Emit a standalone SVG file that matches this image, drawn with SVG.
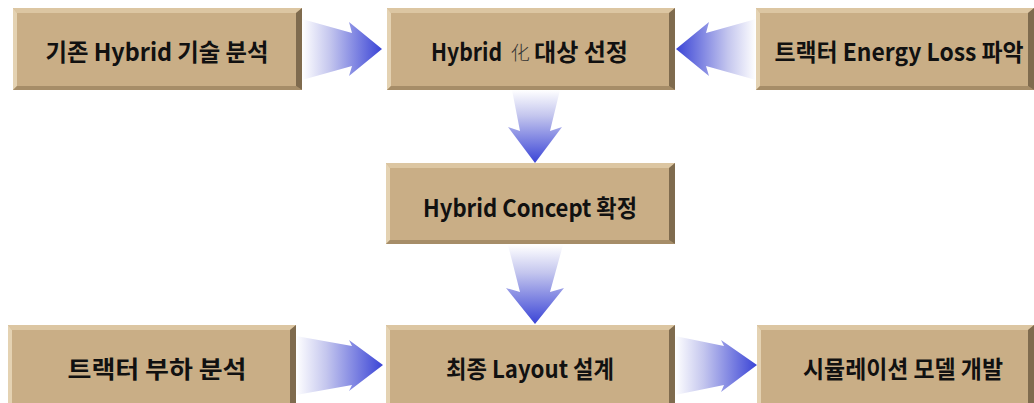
<svg xmlns="http://www.w3.org/2000/svg" width="1034" height="403" viewBox="0 0 1034 403">
  <defs>
    <style>
      .face { fill: #c9ae86; }
      .hi-top { fill: #dcc6a2; }
      .hi-left { fill: #e4d2b2; }
      .sh-bottom { fill: #a68d68; }
      .sh-right { fill: #7f6b4e; }
      .label { font-family: "Noto Sans CJK KR", "Noto Sans", sans-serif; font-weight: 700; font-size: 24px; fill: #111; text-anchor: middle; }
      .start { text-anchor: start; }
      .thin { font-weight: 300; font-size: 19px; fill: #333; }
      .arrow-r { fill: url(#gradRight); }
      .arrow-l { fill: url(#gradLeft); }
      .arrow-d { fill: url(#gradDown); }
    </style>
    <linearGradient id="gradRight" x1="0" y1="0" x2="1" y2="0">
      <stop offset="0" stop-color="#ffffff"/>
      <stop offset="0.35" stop-color="#c4c6ee"/>
      <stop offset="1" stop-color="#3a44d6"/>
    </linearGradient>
    <linearGradient id="gradLeft" x1="1" y1="0" x2="0" y2="0">
      <stop offset="0" stop-color="#ffffff"/>
      <stop offset="0.35" stop-color="#c4c6ee"/>
      <stop offset="1" stop-color="#3a44d6"/>
    </linearGradient>
    <linearGradient id="gradDown" x1="0" y1="0" x2="0" y2="1">
      <stop offset="0" stop-color="#ffffff"/>
      <stop offset="0.35" stop-color="#c4c6ee"/>
      <stop offset="1" stop-color="#3a44d6"/>
    </linearGradient>
  </defs>

  <rect width="1034" height="403" fill="#ffffff"/>

  <!-- connectors -->
  <g id="connectors">
    <polygon class="arrow-r" points="302,19 352,33 349,22 382,49 349,76 352,66 302,80"/>
    <polygon class="arrow-l" points="756,19 706,33 709,22 676,49 709,76 706,66 756,80"/>
    <polygon class="arrow-d" points="512,90 560,90 550,131 562,127 535,163 508,127 520,131"/>
    <polygon class="arrow-d" points="508,245 563,245 550,292 564,288 535,324 506,288 520,292"/>
    <polygon class="arrow-r" points="296,336 352,346 349,340 383,365 349,391 352,385 296,395"/>
    <polygon class="arrow-r" points="675,336 724,346 721,340 757,365 721,392 724,385 675,395"/>
  </g>

  <!-- 기존 Hybrid 기술 분석 -->
  <g id="node-existing">
    <rect class="face" x="13" y="8" width="289" height="82"/>
    <polygon class="hi-top" points="13,8 302,8 296,13 17,13"/>
    <polygon class="hi-left" points="13,8 17,13 17,86 13,90"/>
    <polygon class="sh-bottom" points="13,90 17,86 296,86 302,90"/>
    <polygon class="sh-right" points="302,8 302,90 296,86 296,13"/>
    <text class="label" x="157" y="61" textLength="223" lengthAdjust="spacingAndGlyphs">기존 Hybrid 기술 분석</text>
  </g>

  <!-- Hybrid 化 대상 선정 -->
  <g id="node-target">
    <rect class="face" x="387" y="8" width="288" height="82"/>
    <polygon class="hi-top" points="387,8 675,8 669,13 391,13"/>
    <polygon class="hi-left" points="387,8 391,13 391,86 387,90"/>
    <polygon class="sh-bottom" points="387,90 391,86 669,86 675,90"/>
    <polygon class="sh-right" points="675,8 675,90 669,86 669,13"/>
    <text class="label start" x="431" y="61" textLength="71" lengthAdjust="spacingAndGlyphs">Hybrid</text>
    <text class="label start thin" x="511" y="60">化</text>
    <text class="label start" x="534" y="61" textLength="94" lengthAdjust="spacingAndGlyphs">대상 선정</text>
  </g>

  <!-- 트랙터 Energy Loss 파악 -->
  <g id="node-energy">
    <rect class="face" x="756" y="8" width="278" height="82"/>
    <polygon class="hi-top" points="756,8 1034,8 1028,13 760,13"/>
    <polygon class="hi-left" points="756,8 760,13 760,86 756,90"/>
    <polygon class="sh-bottom" points="756,90 760,86 1028,86 1034,90"/>
    <polygon class="sh-right" points="1034,8 1034,90 1028,86 1028,13"/>
    <text class="label" x="899" y="61" textLength="249" lengthAdjust="spacingAndGlyphs">트랙터 Energy Loss 파악</text>
  </g>

  <!-- Hybrid Concept 확정 -->
  <g id="node-concept">
    <rect class="face" x="386" y="163" width="289" height="81"/>
    <polygon class="hi-top" points="386,163 675,163 669,168 390,168"/>
    <polygon class="hi-left" points="386,163 390,168 390,240 386,244"/>
    <polygon class="sh-bottom" points="386,244 390,240 669,240 675,244"/>
    <polygon class="sh-right" points="675,163 675,244 669,240 669,168"/>
    <text class="label" x="530" y="217" textLength="214" lengthAdjust="spacingAndGlyphs">Hybrid Concept 확정</text>
  </g>

  <!-- 트랙터 부하 분석 -->
  <g id="node-load">
    <rect class="face" x="8" y="325" width="288" height="82"/>
    <polygon class="hi-top" points="8,325 296,325 290,330 12,330"/>
    <polygon class="hi-left" points="8,325 12,330 12,403 8,407"/>
    <polygon class="sh-bottom" points="8,407 12,403 290,403 296,407"/>
    <polygon class="sh-right" points="296,325 296,407 290,403 290,330"/>
    <text class="label" x="157" y="378" textLength="179" lengthAdjust="spacingAndGlyphs">트랙터 부하 분석</text>
  </g>

  <!-- 최종 Layout 설계 -->
  <g id="node-layout">
    <rect class="face" x="386" y="325" width="289" height="82"/>
    <polygon class="hi-top" points="386,325 675,325 669,330 390,330"/>
    <polygon class="hi-left" points="386,325 390,330 390,403 386,407"/>
    <polygon class="sh-bottom" points="386,407 390,403 669,403 675,407"/>
    <polygon class="sh-right" points="675,325 675,407 669,403 669,330"/>
    <text class="label" x="530" y="378" textLength="168" lengthAdjust="spacingAndGlyphs">최종 Layout 설계</text>
  </g>

  <!-- 시뮬레이션 모델 개발 -->
  <g id="node-simulation">
    <rect class="face" x="757" y="325" width="277" height="82"/>
    <polygon class="hi-top" points="757,325 1034,325 1028,330 761,330"/>
    <polygon class="hi-left" points="757,325 761,330 761,403 757,407"/>
    <polygon class="sh-bottom" points="757,407 761,403 1028,403 1034,407"/>
    <polygon class="sh-right" points="1034,325 1034,407 1028,403 1028,330"/>
    <text class="label" x="903" y="378" textLength="200" lengthAdjust="spacingAndGlyphs">시뮬레이션 모델 개발</text>
  </g>
</svg>
